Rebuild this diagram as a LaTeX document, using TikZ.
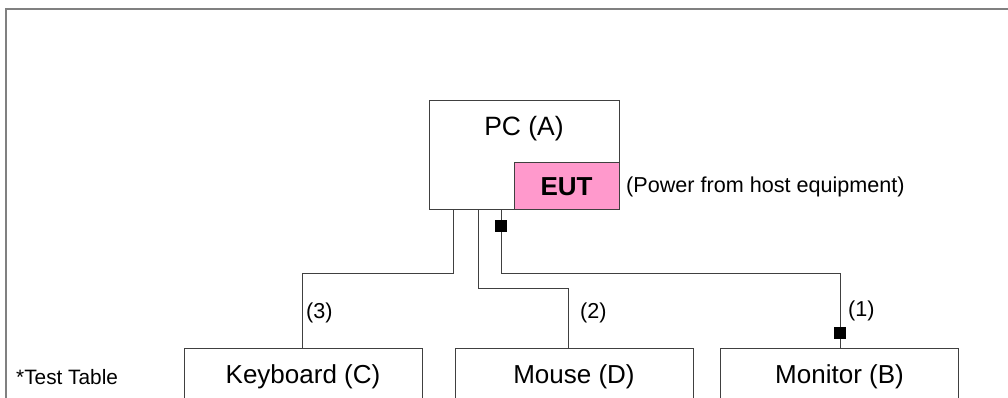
\documentclass[tikz,border=0pt]{standalone}
\usepackage{fontspec}
\setmainfont{Liberation Sans}
\usepackage{tikz}
\usetikzlibrary{positioning,calc}
\definecolor{eutpink}{HTML}{FF99CC}

\begin{document}
\begin{tikzpicture}[x=1pt, y=1pt,
    dev/.style={draw=black!75, line width=1pt, minimum width=238pt, minimum height=56pt, inner sep=0pt, font=\fontsize{26}{31}\selectfont},
    lbl/.style={anchor=west, inner sep=0pt, font=\fontsize{21.6}{25}\selectfont},
    sq/.style={fill=black, minimum size=12pt, inner sep=0pt},
    wire/.style={draw=black!75, line width=1pt}]
    \useasboundingbox (0,0) rectangle (1008,398);
    % frame of the test table
    \draw[gray, line width=1.5pt] (6,0) -- (6,389) -- (1008,389);
    % host and EUT
    \node[draw=black!75, line width=1pt, minimum width=190pt, minimum height=109pt] (pc) at (524,242.5) {};
    \node[font=\fontsize{26.5}{31}\selectfont] (pclbl) at (524,269) {PC (A)};
    \node[draw=black!75, line width=1pt, fill=eutpink, minimum width=105pt, minimum height=47pt, font=\bfseries\fontsize{26}{31}\selectfont] (eut) at (566.5,211.5) {EUT};
    \node[lbl] (pwr) at (626,211) {(Power from host equipment)};
    % peripherals
    \node[dev] (kb) at (303,21) {Keyboard (C)};
    \node[dev] (ms) at (574,21) {Mouse (D)};
    \node[dev] (mon) at (839.5,21) {Monitor (B)};
    \node[lbl, font=\fontsize{20.8}{24}\selectfont] (tt) at (16,21) {*Test Table};
    % cables
    \draw[wire] ([xshift=25pt]pc.south west) -- ++(0,-63) -| ([xshift=-1pt]kb.north);
    \draw[wire] ([xshift=50pt]pc.south west) -- ++(0,-78) -| ([xshift=-6pt]ms.north);
    \draw[wire] ([xshift=73pt]pc.south west) -- ++(0,-63) -| ([xshift=0.5pt]mon.north);
    \node[sq] (c1) at (501,172) {};
    \node[sq] (c2) at (840,65) {};
    \node[lbl] (n3) at (306,85) {(3)};
    \node[lbl] (n2) at (580,85) {(2)};
    \node[lbl] (n1) at (848,87) {(1)};
\end{tikzpicture}
\end{document}
